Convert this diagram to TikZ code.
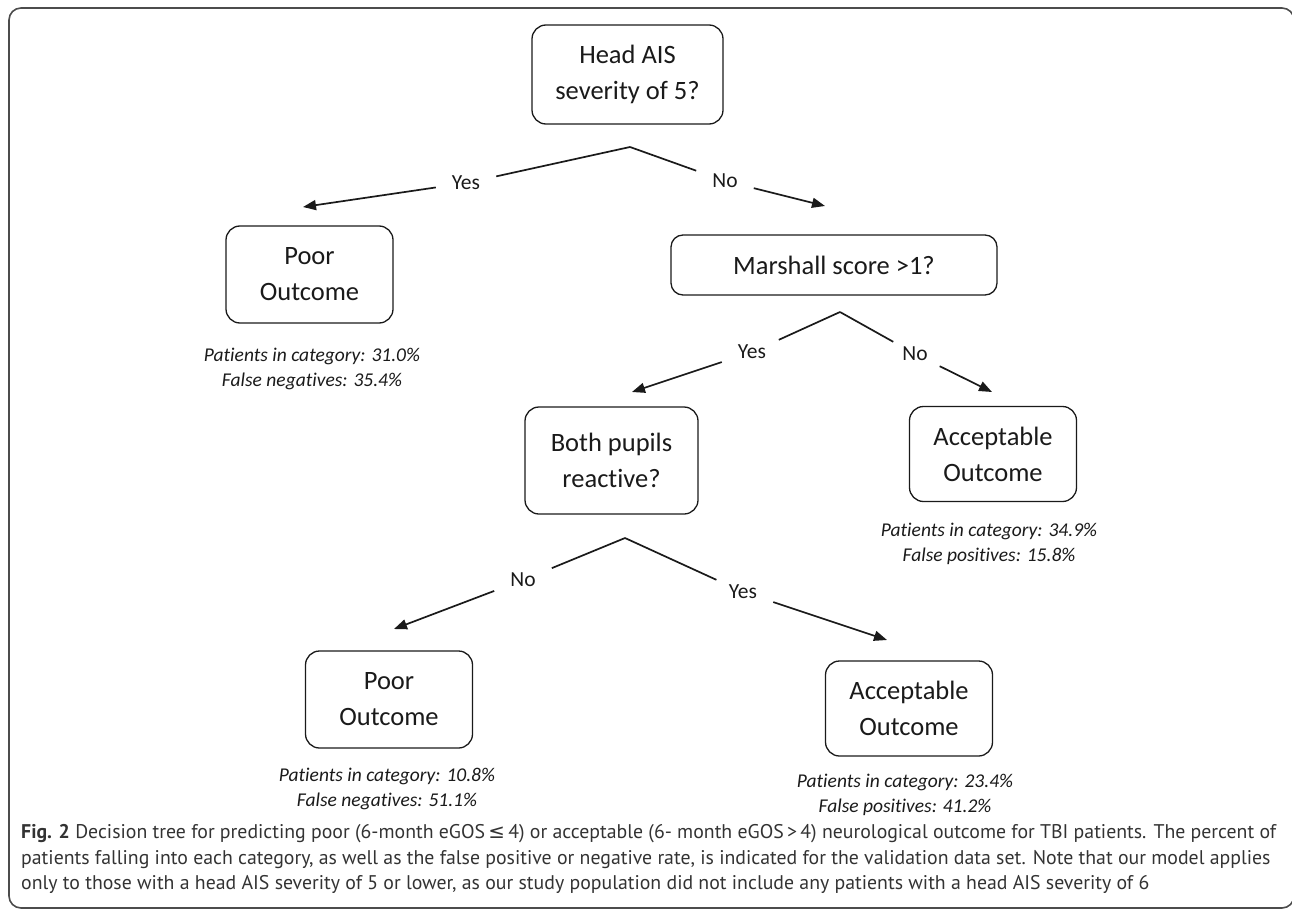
\documentclass[tikz,border=0pt]{standalone}
\usepackage{fontspec}
\setmainfont{Carlito}[Ligatures=NoCommon,RawFeature={-liga;-calt;-dlig;-clig}]
\newfontfamily\capfont{PT Sans}
\newfontfamily\symfont{DejaVu Sans}
\usetikzlibrary{arrows.meta}
\definecolor{ink}{HTML}{1A1A1A}
\definecolor{captxt}{HTML}{333333}
\tikzset{
  decbox/.style={draw=ink,line width=1.3pt,rounded corners=14pt,align=center,
    font=\fontsize{26.5}{36}\selectfont,text=ink,inner sep=0pt},
  edgelbl/.style={font=\fontsize{21.5}{22}\selectfont,text=ink,inner xsep=16pt,inner ysep=5pt},
  statlbl/.style={font=\fontsize{19.5}{25}\selectfont\itshape,text=ink,align=center,inner sep=0pt},
  branch/.style={draw=ink,line width=1.7pt},
  arrowline/.style={draw=ink,line width=1.7pt,-{Triangle[length=13pt,width=10pt]}},
  capline/.style={font=\capfont\fontsize{19.8}{20}\selectfont,text=captxt,anchor=base west,inner sep=0pt}
}
\begin{document}
\begin{tikzpicture}[x=1pt,y=-1pt]
\useasboundingbox (0,0) rectangle (1292,915);
\draw[line width=1.6pt,draw=black!70,rounded corners=12pt] (9,8) rectangle (1294,908);

% nodes
\node[decbox,minimum width=191pt,minimum height=99pt] (head) at (627.5,74.5) {Head AIS\\severity of 5?};
\node[decbox,minimum width=167pt,minimum height=97pt] (poorA) at (309.5,274.5) {Poor\\Outcome};
\node[decbox,minimum width=326pt,minimum height=60pt,rounded corners=12pt] (marsh) at (834,265) {Marshall score {>}1?};
\node[decbox,minimum width=173pt,minimum height=107pt] (pupils) at (611.5,460.5) {Both pupils\\reactive?};
\node[decbox,minimum width=167pt,minimum height=95pt] (accA) at (993,454) {Acceptable\\Outcome};
\node[decbox,minimum width=167pt,minimum height=97pt] (poorB) at (389,699.5) {Poor\\Outcome};
\node[decbox,minimum width=167pt,minimum height=95pt] (accB) at (909,708.5) {Acceptable\\Outcome};

% stats
\node[statlbl] (sPoorA) at (312,369) {Patients in category: 31.0\%\\False negatives: 35.4\%};
\node[statlbl] (sAccA) at (989,544) {Patients in category: 34.9\%\\False positives: 15.8\%};
\node[statlbl] (sPoorB) at (387,789) {Patients in category: 10.8\%\\False negatives: 51.1\%};
\node[statlbl] (sAccB) at (905,795) {Patients in category: 23.4\%\\False positives: 41.2\%};

% split 1
\coordinate (ap1) at (630,147);
\coordinate (t1a) at (303,207);
\coordinate (t1b) at (825,206);
\node[edgelbl] (y1) at (466,183) {Yes};
\node[edgelbl] (n1) at (725,181) {No};
\draw[branch] (ap1) -- (y1);
\draw[arrowline] (y1) -- (t1a);
\draw[branch] (ap1) -- (n1);
\draw[arrowline] (n1) -- (t1b);

% split 2
\coordinate (ap2) at (840,312);
\coordinate (t2a) at (632,392);
\coordinate (t2b) at (992,392);
\node[edgelbl] (y2) at (752,352) {Yes};
\node[edgelbl] (n2) at (915,354) {No};
\draw[branch] (ap2) -- (y2);
\draw[arrowline] (y2) -- (t2a);
\draw[branch] (ap2) -- (n2);
\draw[arrowline] (n2) -- (t2b);

% split 3
\coordinate (ap3) at (625,538);
\coordinate (t3a) at (394,629);
\coordinate (t3b) at (887,640);
\node[edgelbl] (n3) at (523,580) {No};
\node[edgelbl] (y3) at (743,592) {Yes};
\draw[branch] (ap3) -- (n3);
\draw[arrowline] (n3) -- (t3a);
\draw[branch] (ap3) -- (y3);
\draw[arrowline] (y3) -- (t3b);

% caption
\node[capline] (cap1) at (21,838) {\textbf{Fig. 2} Decision tree for predicting poor (6-month eGOS\,{\symfont ≤}\,4) or acceptable (6- month eGOS\,>\,4) neurological outcome for TBI patients. The percent of};
\node[capline] (cap2) at (21,864) {patients falling into each category, as well as the false positive or negative rate, is indicated for the validation data set. Note that our model applies};
\node[capline] (cap3) at (21,889) {only to those with a head AIS severity of 5 or lower, as our study population did not include any patients with a head AIS severity of 6};
\end{tikzpicture}
\end{document}
